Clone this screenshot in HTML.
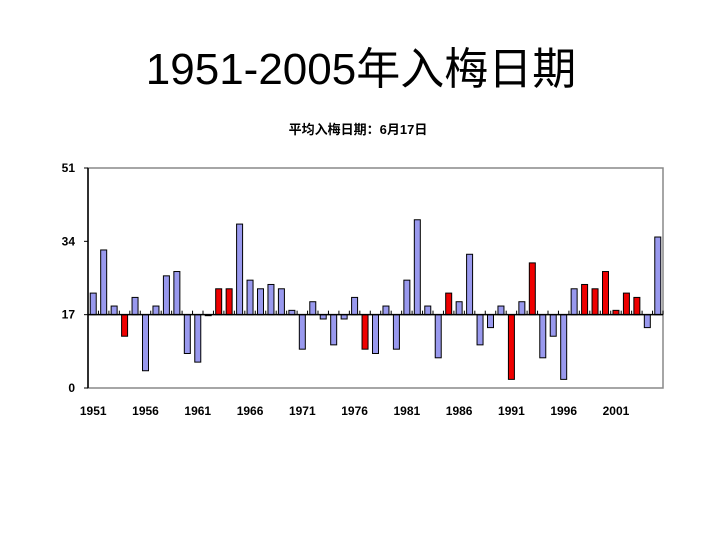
<!DOCTYPE html>
<html><head><meta charset="utf-8"><style>
body{margin:0;background:#fff;width:720px;height:540px;overflow:hidden}
</style></head><body>
<svg width="720" height="540" font-family="'Liberation Sans','Noto Sans CJK SC',sans-serif">
<text x="361" y="84" text-anchor="middle" font-size="44">1951-2005年入梅日期</text>
<text x="358" y="134" text-anchor="middle" font-size="13" font-weight="bold">平均入梅日期：6月17日</text>
<rect x="88" y="168" width="575" height="220" fill="#fff" stroke="#888" stroke-width="1.5"/>
<g id="marks"></g>
</svg>
<script>
const years=[];for(let y=1951;y<=2005;y++)years.push(y);
const values=[22,32,19,12,21,4,19,26,27,8,6,17,23,23,38,25,23,24,23,18,9,20,16,10,16,21,9,8,19,9,25,39,19,7,22,20,31,10,14,19,2,20,29,7,12,2,23,24,23,27,18,22,21,14,35];
const redYears=[1954,1963,1964,1977,1985,1991,1993,1998,1999,2000,2001,2002,2003];
const yTicks=[0,17,34,51];
const xLabels=[1951,1956,1961,1966,1971,1976,1981,1986,1991,1996,2001];
const baseline=17;
const X0=88,W=575,Y0=388,H=220,YMAX=51;
const slot=W/years.length;
const yS=v=>Y0-v/YMAX*H;
const xS=i=>X0+slot*i;
const g=document.getElementById('marks');
const NS='http://www.w3.org/2000/svg';
function mk(t,a){const e=document.createElementNS(NS,t);for(const k in a)e.setAttribute(k,a[k]);g.appendChild(e);return e;}
values.forEach((v,i)=>{
 const y1=yS(Math.max(v,baseline)),y2=yS(Math.min(v,baseline));
 const r=mk('rect',{x:xS(i)+slot/2-3,y:y1,width:6,height:Math.max(y2-y1,1),fill:redYears.includes(years[i])?'#ee0000':'#9999ee',stroke:'#000','stroke-width':1});
 
 
});
const ax=mk('line',{x1:X0,y1:yS(baseline),x2:X0+W,y2:yS(baseline),stroke:'#000','stroke-width':1.5});


for(let i=0;i<=years.length;i++){
 const t=mk('line',{x1:xS(i),y1:yS(baseline),x2:xS(i),y2:yS(baseline)-4,stroke:'#000'});
 
 
}
const ya=mk('line',{x1:X0,y1:168,x2:X0,y2:Y0,stroke:'#000','stroke-width':1.5});


yTicks.forEach(v=>{
 const t=mk('line',{x1:X0-4,y1:yS(v),x2:X0,y2:yS(v),stroke:'#000'});
 
 
 const l=mk('text',{x:75,y:yS(v)+4,'text-anchor':'end','font-size':12,'font-weight':'bold'});
 l.textContent=v;
 
 
});
xLabels.forEach(yr=>{
 const i=years.indexOf(yr);
 const l=mk('text',{x:xS(i)+slot/2,y:415,'text-anchor':'middle','font-size':12,'font-weight':'bold'});
 l.textContent=yr;
 
 
});
</script>
</body></html>
